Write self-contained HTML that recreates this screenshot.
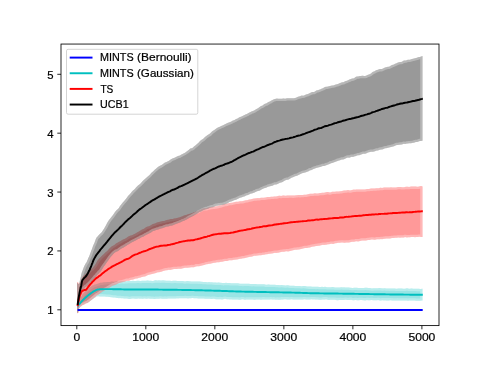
<!DOCTYPE html>
<html><head><meta charset="utf-8"><title>plot</title>
<style>html,body{margin:0;padding:0;background:#fff;overflow:hidden}body{width:488px;height:366px}</style>
</head><body>
<svg width="488" height="366" viewBox="0 0 488 366" style="display:block;will-change:transform;font-family:'Liberation Sans',sans-serif;font-size:10.78px">
<rect width="488" height="366" fill="#fff"/>
<clipPath id="c"><rect x="61.0" y="44.05" width="378.0" height="281.55"/></clipPath>
<g clip-path="url(#c)">
<defs><polygon id="p1" points="77.6,310.00 422.5,310.00 422.5,310.00 77.6,310.00"/><clipPath id="b1"><use href="#p1"/></clipPath></defs><use href="#p1" fill="#0000ff" fill-opacity="0.4"/><use href="#p1" clip-path="url(#b1)" fill="none" stroke="#fff" stroke-opacity="0.3" stroke-width="4.6" stroke-linejoin="round"/>
<defs><polygon id="p2" points="77.6,303.08 78.0,302.08 78.4,301.33 78.8,300.64 79.2,299.87 79.6,299.09 80.0,298.32 80.4,297.70 80.8,297.28 81.2,296.88 81.6,296.15 82.0,295.37 82.4,294.79 82.8,294.21 83.2,293.67 83.6,293.25 84.0,292.84 84.4,292.40 84.8,291.96 85.2,291.46 85.6,291.06 86.0,290.75 86.4,290.27 86.8,289.74 87.2,289.39 87.6,289.19 88.0,288.92 88.4,288.46 88.8,288.11 89.2,287.85 89.6,287.47 90.0,287.22 90.4,287.08 90.8,286.83 91.2,286.55 91.6,286.16 92.0,285.81 92.4,285.70 92.8,285.45 93.2,285.17 93.6,285.16 94.0,285.06 94.4,284.77 94.8,284.54 95.2,284.46 95.6,284.43 96.0,284.38 96.4,284.22 96.8,284.03 97.2,283.90 97.6,283.64 98.0,283.46 98.4,283.46 98.8,283.38 99.2,283.17 99.6,283.03 100.0,282.88 100.0,282.82 101.0,282.82 102.0,282.71 103.0,282.44 104.0,282.33 105.0,282.29 106.0,282.17 107.0,281.93 108.0,281.90 109.0,282.06 110.0,281.95 111.0,281.65 112.0,281.62 113.0,281.68 114.0,281.67 115.0,281.64 116.0,281.49 117.0,281.37 118.0,281.38 119.0,281.43 120.0,281.34 121.0,281.12 122.0,281.09 123.0,281.28 124.0,281.33 125.0,281.28 126.0,281.26 127.0,281.13 128.0,280.97 129.0,280.89 130.0,280.98 131.0,281.05 132.0,280.90 133.0,280.84 134.0,280.92 135.0,280.99 136.0,280.94 137.0,280.73 138.0,280.65 139.0,280.83 140.0,280.99 141.0,280.95 142.0,280.82 143.0,280.75 144.0,280.73 145.0,280.73 146.0,280.70 147.0,280.62 148.0,280.59 149.0,280.63 150.0,280.64 151.0,280.74 152.0,280.89 153.0,280.88 154.0,280.64 155.0,280.36 156.0,280.34 157.0,280.45 158.0,280.41 159.0,280.36 160.0,280.56 161.0,280.62 162.0,280.40 163.0,280.33 164.0,280.42 165.0,280.56 166.0,280.75 167.0,280.83 168.0,280.75 169.0,280.72 170.0,280.81 171.0,280.92 172.0,280.96 173.0,280.87 174.0,280.74 175.0,280.70 176.0,280.83 177.0,281.02 178.0,281.04 179.0,280.93 180.0,280.94 181.0,281.01 182.0,280.96 183.0,280.98 184.0,281.25 185.0,281.41 186.0,281.26 187.0,281.10 188.0,281.05 189.0,281.13 190.0,281.36 191.0,281.48 192.0,281.46 193.0,281.47 194.0,281.50 195.0,281.45 196.0,281.38 197.0,281.47 198.0,281.58 199.0,281.57 200.0,281.58 201.0,281.63 202.0,281.77 203.0,281.90 204.0,281.89 205.0,281.94 206.0,282.09 207.0,282.22 208.0,282.18 209.0,282.05 210.0,282.13 211.0,282.23 212.0,282.30 213.0,282.46 214.0,282.57 215.0,282.58 216.0,282.60 217.0,282.65 218.0,282.59 219.0,282.60 220.0,282.68 221.0,282.77 222.0,282.96 223.0,283.09 224.0,283.08 225.0,282.94 226.0,282.87 227.0,282.98 228.0,283.04 229.0,283.03 230.0,283.09 231.0,283.22 232.0,283.30 233.0,283.28 234.0,283.30 235.0,283.24 236.0,283.18 237.0,283.21 238.0,283.28 239.0,283.48 240.0,283.63 241.0,283.66 242.0,283.75 243.0,283.85 244.0,283.80 245.0,283.74 246.0,283.67 247.0,283.67 248.0,283.75 249.0,283.78 250.0,283.90 251.0,284.05 252.0,284.12 253.0,284.05 254.0,284.02 255.0,284.09 256.0,284.12 257.0,284.16 258.0,284.23 259.0,284.26 260.0,284.26 261.0,284.26 262.0,284.23 263.0,284.21 264.0,284.30 265.0,284.45 266.0,284.68 267.0,284.69 268.0,284.52 269.0,284.59 270.0,284.66 271.0,284.67 272.0,284.78 273.0,284.73 274.0,284.66 275.0,284.79 276.0,284.93 277.0,284.94 278.0,284.95 279.0,285.11 280.0,285.16 281.0,285.04 282.0,285.06 283.0,285.16 284.0,285.30 285.0,285.47 286.0,285.41 287.0,285.26 288.0,285.30 289.0,285.54 290.0,285.73 291.0,285.66 292.0,285.63 293.0,285.70 294.0,285.82 295.0,285.93 296.0,285.88 297.0,285.88 298.0,285.96 299.0,285.93 300.0,285.97 301.0,286.13 302.0,286.15 303.0,286.07 304.0,286.04 305.0,286.12 306.0,286.33 307.0,286.47 308.0,286.54 309.0,286.59 310.0,286.58 311.0,286.56 312.0,286.64 313.0,286.66 314.0,286.66 315.0,286.77 316.0,286.85 317.0,286.78 318.0,286.75 319.0,286.92 320.0,287.03 321.0,286.91 322.0,286.85 323.0,286.95 324.0,286.97 325.0,286.87 326.0,287.01 327.0,287.14 328.0,287.13 329.0,287.24 330.0,287.24 331.0,287.15 332.0,287.12 333.0,287.06 334.0,287.22 335.0,287.40 336.0,287.41 337.0,287.49 338.0,287.51 339.0,287.51 340.0,287.38 341.0,287.21 342.0,287.33 343.0,287.45 344.0,287.37 345.0,287.40 346.0,287.53 347.0,287.49 348.0,287.41 349.0,287.56 350.0,287.73 351.0,287.77 352.0,287.89 353.0,287.97 354.0,287.82 355.0,287.64 356.0,287.65 357.0,287.84 358.0,287.98 359.0,288.00 360.0,287.97 361.0,287.94 362.0,287.95 363.0,287.93 364.0,287.88 365.0,287.79 366.0,287.79 367.0,287.87 368.0,287.89 369.0,287.97 370.0,288.12 371.0,288.30 372.0,288.48 373.0,288.37 374.0,288.20 375.0,288.26 376.0,288.26 377.0,288.24 378.0,288.29 379.0,288.09 380.0,287.98 381.0,288.20 382.0,288.37 383.0,288.42 384.0,288.30 385.0,288.29 386.0,288.42 387.0,288.38 388.0,288.45 389.0,288.59 390.0,288.52 391.0,288.46 392.0,288.52 393.0,288.54 394.0,288.49 395.0,288.57 396.0,288.74 397.0,288.79 398.0,288.60 399.0,288.50 400.0,288.59 401.0,288.61 402.0,288.62 403.0,288.71 404.0,288.72 405.0,288.63 406.0,288.49 407.0,288.36 408.0,288.54 409.0,288.76 410.0,288.67 411.0,288.54 412.0,288.59 413.0,288.73 414.0,288.72 415.0,288.67 416.0,288.77 417.0,288.86 418.0,288.83 419.0,288.84 420.0,288.95 421.0,288.91 422.0,288.78 422.5,288.74 422.5,300.48 422.0,300.51 421.0,300.62 420.0,300.70 419.0,300.76 418.0,300.81 417.0,300.85 416.0,300.73 415.0,300.59 414.0,300.51 413.0,300.45 412.0,300.43 411.0,300.44 410.0,300.48 409.0,300.58 408.0,300.70 407.0,300.62 406.0,300.53 405.0,300.58 404.0,300.53 403.0,300.54 402.0,300.59 401.0,300.59 400.0,300.60 399.0,300.51 398.0,300.43 397.0,300.42 396.0,300.50 395.0,300.60 394.0,300.57 393.0,300.47 392.0,300.42 391.0,300.33 390.0,300.33 389.0,300.41 388.0,300.39 387.0,300.40 386.0,300.39 385.0,300.36 384.0,300.41 383.0,300.35 382.0,300.34 381.0,300.47 380.0,300.55 379.0,300.28 378.0,300.12 377.0,300.28 376.0,300.24 375.0,300.24 374.0,300.37 373.0,300.28 372.0,300.08 371.0,300.07 370.0,300.22 369.0,300.26 368.0,300.13 367.0,300.06 366.0,300.24 365.0,300.39 364.0,300.30 363.0,300.19 362.0,300.06 361.0,299.98 360.0,300.11 359.0,300.16 358.0,300.20 357.0,300.22 356.0,300.07 355.0,300.08 354.0,300.18 353.0,300.18 352.0,300.04 351.0,299.87 350.0,299.88 349.0,300.00 348.0,300.05 347.0,299.91 346.0,299.79 345.0,299.83 344.0,299.94 343.0,300.10 342.0,300.08 341.0,299.90 340.0,299.96 339.0,300.11 338.0,300.14 337.0,300.14 336.0,299.98 335.0,299.83 334.0,299.78 333.0,299.71 332.0,299.68 331.0,299.68 330.0,299.81 329.0,299.91 328.0,299.78 327.0,299.51 326.0,299.37 325.0,299.40 324.0,299.41 323.0,299.46 322.0,299.61 321.0,299.73 320.0,299.80 319.0,299.75 318.0,299.59 317.0,299.49 316.0,299.47 315.0,299.39 314.0,299.37 313.0,299.38 312.0,299.30 311.0,299.31 310.0,299.43 309.0,299.45 308.0,299.45 307.0,299.53 306.0,299.52 305.0,299.35 304.0,299.29 303.0,299.39 302.0,299.45 301.0,299.46 300.0,299.46 299.0,299.50 298.0,299.45 297.0,299.48 296.0,299.54 295.0,299.51 294.0,299.55 293.0,299.48 292.0,299.33 291.0,299.37 290.0,299.47 289.0,299.44 288.0,299.38 287.0,299.39 286.0,299.34 285.0,299.21 284.0,299.28 283.0,299.41 282.0,299.38 281.0,299.41 280.0,299.65 279.0,299.78 278.0,299.65 277.0,299.61 276.0,299.71 275.0,299.59 274.0,299.40 273.0,299.48 272.0,299.48 271.0,299.36 270.0,299.42 269.0,299.57 268.0,299.59 267.0,299.51 266.0,299.52 265.0,299.47 264.0,299.38 263.0,299.38 262.0,299.50 261.0,299.63 260.0,299.59 259.0,299.53 258.0,299.48 257.0,299.46 256.0,299.57 255.0,299.65 254.0,299.65 253.0,299.60 252.0,299.57 251.0,299.54 250.0,299.51 249.0,299.53 248.0,299.44 247.0,299.44 246.0,299.62 245.0,299.68 244.0,299.57 243.0,299.37 242.0,299.22 241.0,299.44 240.0,299.78 239.0,299.73 238.0,299.53 237.0,299.48 236.0,299.45 235.0,299.49 234.0,299.55 233.0,299.54 232.0,299.43 231.0,299.35 230.0,299.38 229.0,299.34 228.0,299.34 227.0,299.35 226.0,299.08 225.0,298.78 224.0,298.92 223.0,299.31 222.0,299.43 221.0,299.22 220.0,299.13 219.0,299.21 218.0,299.21 217.0,299.22 216.0,299.15 215.0,298.92 214.0,298.86 213.0,298.87 212.0,298.88 211.0,298.93 210.0,298.86 209.0,298.76 208.0,298.80 207.0,298.81 206.0,298.75 205.0,298.67 204.0,298.53 203.0,298.53 202.0,298.55 201.0,298.46 200.0,298.46 199.0,298.55 198.0,298.44 197.0,298.21 196.0,298.20 195.0,298.24 194.0,298.19 193.0,298.11 192.0,298.11 191.0,298.21 190.0,298.26 189.0,298.33 188.0,298.41 187.0,298.31 186.0,298.16 185.0,298.16 184.0,298.27 183.0,298.34 182.0,298.29 181.0,298.19 180.0,298.22 179.0,298.36 178.0,298.39 177.0,298.37 176.0,298.47 175.0,298.62 174.0,298.57 173.0,298.48 172.0,298.47 171.0,298.47 170.0,298.50 169.0,298.51 168.0,298.61 167.0,298.72 166.0,298.69 165.0,298.63 164.0,298.68 163.0,298.75 162.0,298.72 161.0,298.62 160.0,298.56 159.0,298.69 158.0,298.85 157.0,298.84 156.0,298.84 155.0,298.91 154.0,298.93 153.0,298.84 152.0,298.77 151.0,298.70 150.0,298.65 149.0,298.60 148.0,298.56 147.0,298.66 146.0,298.69 145.0,298.52 144.0,298.54 143.0,298.78 142.0,298.78 141.0,298.62 140.0,298.64 139.0,298.61 138.0,298.57 137.0,298.65 136.0,298.63 135.0,298.66 134.0,298.61 133.0,298.48 132.0,298.58 131.0,298.82 130.0,299.04 129.0,298.99 128.0,298.73 127.0,298.57 126.0,298.52 125.0,298.56 124.0,298.51 123.0,298.37 122.0,298.29 121.0,298.17 120.0,298.12 119.0,298.16 118.0,298.12 117.0,297.94 116.0,297.68 115.0,297.48 114.0,297.43 113.0,297.43 112.0,297.30 111.0,297.16 110.0,297.06 109.0,296.89 108.0,296.75 107.0,296.76 106.0,296.73 105.0,296.52 104.0,296.44 103.0,296.47 102.0,296.42 101.0,296.43 100.0,296.41 100.0,296.45 99.6,296.44 99.2,296.32 98.8,296.29 98.4,296.30 98.0,296.23 97.6,296.28 97.2,296.46 96.8,296.49 96.4,296.56 96.0,296.82 95.6,297.19 95.2,297.45 94.8,297.58 94.4,297.79 94.0,298.14 93.6,298.47 93.2,298.68 92.8,298.94 92.4,299.31 92.0,299.51 91.6,299.72 91.2,300.20 90.8,300.59 90.4,300.80 90.0,301.00 89.6,301.31 89.2,301.66 88.8,301.94 88.4,302.19 88.0,302.43 87.6,302.69 87.2,302.80 86.8,302.83 86.4,303.07 86.0,303.32 85.6,303.32 85.2,303.34 84.8,303.57 84.4,303.92 84.0,304.14 83.6,304.20 83.2,304.35 82.8,304.65 82.4,304.97 82.0,305.29 81.6,305.60 81.2,305.79 80.8,305.98 80.4,306.46 80.0,307.05 79.6,307.51 79.2,307.90 78.8,308.27 78.4,308.66 78.0,309.10 77.6,309.52"/><clipPath id="b2"><use href="#p2"/></clipPath></defs><use href="#p2" fill="#00bfbf" fill-opacity="0.4"/><use href="#p2" clip-path="url(#b2)" fill="none" stroke="#fff" stroke-opacity="0.3" stroke-width="4.6" stroke-linejoin="round"/>
<defs><polygon id="p3" points="77.0,282.11 77.4,282.27 77.8,282.28 78.2,282.43 78.6,283.43 79.0,283.95 79.4,283.36 79.8,282.75 80.2,282.07 80.6,281.31 81.0,280.34 81.4,278.99 81.8,277.74 82.2,276.98 82.6,276.47 83.0,276.02 83.4,275.85 83.8,275.70 84.2,275.43 84.6,275.06 85.0,274.55 85.4,274.28 85.8,274.30 86.2,273.93 86.6,273.29 87.0,272.91 87.4,272.59 87.8,272.19 88.2,271.72 88.6,271.28 89.0,270.97 89.4,270.67 89.8,270.22 90.2,269.60 90.6,269.17 91.0,269.00 91.4,268.82 91.8,268.67 92.2,268.42 92.6,267.92 93.0,267.38 93.4,266.97 93.8,266.50 94.2,265.89 94.6,265.41 95.0,264.88 95.4,264.29 95.8,263.68 96.2,262.98 96.6,262.32 97.0,261.59 97.4,260.87 97.8,260.34 98.2,259.84 98.6,259.25 99.0,258.66 99.4,258.18 99.8,257.92 100.0,257.80 101.0,256.63 102.0,255.66 103.0,254.81 104.0,253.96 105.0,252.87 106.0,251.89 107.0,251.19 108.0,250.20 109.0,249.05 110.0,248.02 111.0,247.09 112.0,246.29 113.0,245.65 114.0,245.18 115.0,244.47 116.0,243.56 117.0,242.93 118.0,242.41 119.0,241.84 120.0,241.38 121.0,240.84 122.0,240.14 123.0,239.58 124.0,239.17 125.0,238.77 126.0,238.18 127.0,237.47 128.0,236.82 129.0,236.23 130.0,235.75 131.0,235.42 132.0,235.13 133.0,234.63 134.0,234.16 135.0,233.83 136.0,233.29 137.0,232.56 138.0,231.98 139.0,231.51 140.0,230.87 141.0,230.18 142.0,229.60 143.0,229.13 144.0,228.71 145.0,228.07 146.0,227.24 147.0,226.66 148.0,226.47 149.0,226.19 150.0,225.70 151.0,225.17 152.0,224.53 153.0,224.03 154.0,223.78 155.0,223.47 156.0,223.01 157.0,222.54 158.0,222.24 159.0,222.04 160.0,221.82 161.0,221.48 162.0,221.15 163.0,221.04 164.0,220.97 165.0,220.67 166.0,220.26 167.0,219.96 168.0,219.87 169.0,219.75 170.0,219.31 171.0,219.07 172.0,219.10 173.0,218.94 174.0,218.62 175.0,218.40 176.0,218.22 177.0,217.93 178.0,217.67 179.0,217.46 180.0,217.19 181.0,216.82 182.0,216.42 183.0,216.07 184.0,215.60 185.0,215.23 186.0,215.05 187.0,214.74 188.0,214.37 189.0,214.07 190.0,213.85 191.0,213.39 192.0,212.88 193.0,212.66 194.0,212.35 195.0,211.88 196.0,211.64 197.0,211.45 198.0,210.95 199.0,210.35 200.0,209.92 201.0,209.53 202.0,208.91 203.0,208.42 204.0,208.31 205.0,208.32 206.0,208.31 207.0,207.99 208.0,207.54 209.0,207.35 210.0,207.28 211.0,207.05 212.0,206.85 213.0,206.76 214.0,206.63 215.0,206.45 216.0,206.33 217.0,206.29 218.0,205.98 219.0,205.62 220.0,205.54 221.0,205.31 222.0,204.92 223.0,204.55 224.0,204.29 225.0,204.09 226.0,203.87 227.0,203.70 228.0,203.40 229.0,203.02 230.0,202.89 231.0,202.87 232.0,202.69 233.0,202.40 234.0,202.19 235.0,202.00 236.0,201.73 237.0,201.68 238.0,201.75 239.0,201.57 240.0,201.30 241.0,201.19 242.0,201.24 243.0,201.12 244.0,200.75 245.0,200.42 246.0,200.25 247.0,200.21 248.0,199.93 249.0,199.56 250.0,199.44 251.0,199.26 252.0,199.02 253.0,198.77 254.0,198.49 255.0,198.38 256.0,198.37 257.0,198.19 258.0,198.11 259.0,198.19 260.0,197.98 261.0,197.69 262.0,197.65 263.0,197.74 264.0,197.73 265.0,197.60 266.0,197.40 267.0,197.11 268.0,196.99 269.0,196.97 270.0,196.95 271.0,196.76 272.0,196.69 273.0,196.81 274.0,196.60 275.0,196.43 276.0,196.47 277.0,196.37 278.0,196.02 279.0,195.63 280.0,195.72 281.0,195.90 282.0,195.76 283.0,195.51 284.0,195.53 285.0,195.81 286.0,195.82 287.0,195.62 288.0,195.59 289.0,195.54 290.0,195.43 291.0,195.47 292.0,195.56 293.0,195.62 294.0,195.61 295.0,195.41 296.0,195.28 297.0,195.24 298.0,195.07 299.0,195.02 300.0,195.12 301.0,195.05 302.0,194.98 303.0,194.89 304.0,194.74 305.0,194.75 306.0,194.69 307.0,194.52 308.0,194.33 309.0,193.98 310.0,193.70 311.0,193.66 312.0,193.67 313.0,193.68 314.0,193.56 315.0,193.36 316.0,193.38 317.0,193.48 318.0,193.40 319.0,193.22 320.0,193.06 321.0,192.92 322.0,192.86 323.0,192.84 324.0,192.75 325.0,192.59 326.0,192.32 327.0,192.07 328.0,192.02 329.0,192.19 330.0,192.39 331.0,192.24 332.0,191.83 333.0,191.66 334.0,191.80 335.0,191.69 336.0,191.48 337.0,191.51 338.0,191.53 339.0,191.45 340.0,191.33 341.0,191.20 342.0,190.98 343.0,190.72 344.0,190.59 345.0,190.57 346.0,190.51 347.0,190.24 348.0,190.10 349.0,190.27 350.0,190.40 351.0,190.36 352.0,190.10 353.0,189.73 354.0,189.62 355.0,189.66 356.0,189.54 357.0,189.39 358.0,189.49 359.0,189.52 360.0,189.40 361.0,189.47 362.0,189.54 363.0,189.47 364.0,189.45 365.0,189.40 366.0,189.24 367.0,189.08 368.0,189.00 369.0,188.96 370.0,188.75 371.0,188.62 372.0,188.60 373.0,188.50 374.0,188.51 375.0,188.53 376.0,188.37 377.0,188.29 378.0,188.32 379.0,188.14 380.0,187.79 381.0,187.78 382.0,188.00 383.0,187.83 384.0,187.45 385.0,187.42 386.0,187.52 387.0,187.51 388.0,187.56 389.0,187.57 390.0,187.45 391.0,187.33 392.0,187.49 393.0,187.55 394.0,187.38 395.0,187.41 396.0,187.44 397.0,187.29 398.0,187.07 399.0,186.88 400.0,186.91 401.0,187.12 402.0,187.24 403.0,187.24 404.0,187.20 405.0,187.08 406.0,186.84 407.0,186.73 408.0,186.86 409.0,186.95 410.0,186.80 411.0,186.61 412.0,186.56 413.0,186.58 414.0,186.62 415.0,186.59 416.0,186.61 417.0,186.66 418.0,186.69 419.0,186.62 420.0,186.25 421.0,186.08 422.0,186.36 422.5,186.49 422.5,236.89 422.0,236.95 421.0,237.00 420.0,236.86 419.0,236.84 418.0,237.01 417.0,237.05 416.0,237.11 415.0,237.14 414.0,237.06 413.0,237.04 412.0,237.00 411.0,237.09 410.0,237.26 409.0,237.27 408.0,237.34 407.0,237.39 406.0,237.14 405.0,237.04 404.0,237.39 403.0,237.58 402.0,237.45 401.0,237.52 400.0,237.64 399.0,237.56 398.0,237.62 397.0,237.82 396.0,237.87 395.0,237.87 394.0,237.89 393.0,237.93 392.0,238.05 391.0,238.24 390.0,238.41 389.0,238.43 388.0,238.45 387.0,238.52 386.0,238.56 385.0,238.63 384.0,238.85 383.0,239.07 382.0,239.13 381.0,239.11 380.0,239.18 379.0,239.37 378.0,239.33 377.0,239.30 376.0,239.59 375.0,239.78 374.0,239.68 373.0,239.58 372.0,239.50 371.0,239.57 370.0,239.89 369.0,240.05 368.0,240.05 367.0,240.19 366.0,240.45 365.0,240.59 364.0,240.52 363.0,240.43 362.0,240.50 361.0,240.72 360.0,241.01 359.0,241.26 358.0,241.40 357.0,241.37 356.0,241.36 355.0,241.58 354.0,241.71 353.0,241.74 352.0,241.82 351.0,241.94 350.0,242.20 349.0,242.44 348.0,242.49 347.0,242.44 346.0,242.50 345.0,242.66 344.0,242.72 343.0,242.57 342.0,242.42 341.0,242.50 340.0,242.66 339.0,242.72 338.0,242.87 337.0,243.10 336.0,243.13 335.0,243.30 334.0,243.71 333.0,243.88 332.0,243.82 331.0,243.81 330.0,244.06 329.0,244.23 328.0,244.23 327.0,244.44 326.0,244.73 325.0,244.87 324.0,244.88 323.0,244.85 322.0,244.96 321.0,245.19 320.0,245.42 319.0,245.63 318.0,245.77 317.0,245.90 316.0,246.08 315.0,246.34 314.0,246.59 313.0,246.61 312.0,246.70 311.0,247.04 310.0,247.39 309.0,247.60 308.0,247.80 307.0,247.98 306.0,248.02 305.0,248.12 304.0,248.34 303.0,248.60 302.0,248.82 301.0,248.97 300.0,249.24 299.0,249.44 298.0,249.43 297.0,249.63 296.0,249.86 295.0,249.86 294.0,250.09 293.0,250.35 292.0,250.53 291.0,250.75 290.0,250.88 289.0,251.13 288.0,251.38 287.0,251.32 286.0,251.36 285.0,251.61 284.0,251.66 283.0,251.69 282.0,251.83 281.0,251.93 280.0,252.19 279.0,252.49 278.0,252.64 277.0,252.82 276.0,252.89 275.0,252.86 274.0,252.96 273.0,253.21 272.0,253.46 271.0,253.60 270.0,253.69 269.0,253.84 268.0,254.07 267.0,254.24 266.0,254.32 265.0,254.52 264.0,254.68 263.0,254.75 262.0,255.00 261.0,255.18 260.0,255.15 259.0,255.21 258.0,255.40 257.0,255.61 256.0,255.70 255.0,255.68 254.0,255.85 253.0,256.13 252.0,256.45 251.0,256.71 250.0,256.81 249.0,256.98 248.0,257.25 247.0,257.48 246.0,257.76 245.0,258.08 244.0,258.27 243.0,258.29 242.0,258.39 241.0,258.65 240.0,258.84 239.0,259.00 238.0,259.27 237.0,259.48 236.0,259.56 235.0,259.68 234.0,259.84 233.0,259.98 232.0,260.18 231.0,260.27 230.0,260.24 229.0,260.37 228.0,260.73 227.0,261.00 226.0,260.95 225.0,260.96 224.0,261.18 223.0,261.54 222.0,261.87 221.0,261.87 220.0,261.90 219.0,262.13 218.0,262.17 217.0,262.22 216.0,262.57 215.0,262.85 214.0,262.85 213.0,262.97 212.0,263.32 211.0,263.61 210.0,263.69 209.0,263.77 208.0,264.04 207.0,264.22 206.0,264.36 205.0,264.69 204.0,264.93 203.0,265.14 202.0,265.47 201.0,265.74 200.0,266.01 199.0,266.23 198.0,266.22 197.0,266.19 196.0,266.38 195.0,266.82 194.0,267.16 193.0,267.18 192.0,267.13 191.0,267.32 190.0,267.58 189.0,267.60 188.0,267.65 187.0,267.77 186.0,267.70 185.0,267.83 184.0,268.04 183.0,268.14 182.0,268.51 181.0,268.79 180.0,268.78 179.0,268.79 178.0,268.82 177.0,268.92 176.0,268.99 175.0,269.00 174.0,269.10 173.0,269.23 172.0,269.44 171.0,269.80 170.0,269.96 169.0,269.86 168.0,270.02 167.0,270.28 166.0,270.26 165.0,270.41 164.0,270.79 163.0,271.11 162.0,271.42 161.0,271.67 160.0,271.93 159.0,272.16 158.0,272.18 157.0,272.39 156.0,272.88 155.0,273.19 154.0,273.50 153.0,273.86 152.0,274.04 151.0,274.29 150.0,274.52 149.0,274.74 148.0,275.03 147.0,275.43 146.0,275.98 145.0,276.38 144.0,276.51 143.0,276.67 142.0,276.90 141.0,277.33 140.0,277.72 139.0,277.84 138.0,278.15 137.0,278.47 136.0,278.61 135.0,278.82 134.0,279.14 133.0,279.58 132.0,279.81 131.0,279.87 130.0,280.25 129.0,280.72 128.0,280.86 127.0,280.86 126.0,281.09 125.0,281.47 124.0,281.75 123.0,282.03 122.0,282.26 121.0,282.41 120.0,282.63 119.0,283.01 118.0,283.51 117.0,283.95 116.0,284.44 115.0,284.93 114.0,285.17 113.0,285.46 112.0,286.04 111.0,286.62 110.0,287.14 109.0,287.71 108.0,288.34 107.0,288.97 106.0,289.55 105.0,290.11 104.0,290.71 103.0,291.21 102.0,291.79 101.0,292.63 100.0,293.37 99.8,293.40 99.4,293.79 99.0,294.17 98.6,294.38 98.2,294.60 97.8,294.80 97.4,294.98 97.0,295.20 96.6,295.43 96.2,295.74 95.8,296.21 95.4,296.64 95.0,296.94 94.6,297.31 94.2,297.68 93.8,297.94 93.4,298.21 93.0,298.44 92.6,298.79 92.2,299.28 91.8,299.65 91.4,299.96 91.0,300.27 90.6,300.60 90.2,300.94 89.8,301.32 89.4,301.59 89.0,301.66 88.6,302.02 88.2,302.57 87.8,302.77 87.4,302.91 87.0,303.18 86.6,303.30 86.2,303.33 85.8,303.50 85.4,303.84 85.0,304.11 84.6,304.25 84.2,304.49 83.8,304.83 83.4,305.05 83.0,305.05 82.6,305.11 82.2,305.41 81.8,305.85 81.4,306.21 81.0,306.27 80.6,306.50 80.2,307.02 79.8,307.40 79.4,307.86 79.0,308.46 78.6,310.93 78.2,312.98 77.8,313.10 77.4,313.17 77.0,313.20"/><clipPath id="b3"><use href="#p3"/></clipPath></defs><use href="#p3" fill="#ff0000" fill-opacity="0.4"/><use href="#p3" clip-path="url(#b3)" fill="none" stroke="#fff" stroke-opacity="0.3" stroke-width="4.6" stroke-linejoin="round"/>
<defs><polygon id="p4" points="77.0,282.93 77.4,283.11 77.8,283.45 78.2,283.81 78.6,284.27 79.0,284.31 79.4,283.01 79.8,281.09 80.2,279.37 80.6,277.74 81.0,275.99 81.4,274.04 81.8,272.51 82.2,271.52 82.6,270.47 83.0,269.29 83.4,268.23 83.8,267.13 84.2,266.23 84.6,265.48 85.0,264.72 85.4,264.03 85.8,263.27 86.2,262.64 86.6,262.16 87.0,261.34 87.4,260.32 87.8,259.38 88.2,258.35 88.6,257.42 89.0,256.70 89.4,255.78 89.8,254.64 90.2,253.57 90.6,252.42 91.0,251.20 91.4,250.28 91.8,249.38 92.2,248.23 92.6,247.14 93.0,246.06 93.4,244.96 93.8,244.14 94.2,243.35 94.6,242.43 95.0,241.34 95.4,240.13 95.8,239.07 96.2,238.17 96.6,237.39 97.0,236.90 97.4,236.69 97.8,236.29 98.2,235.74 98.6,235.30 99.0,234.85 99.4,234.46 99.8,234.04 100.0,233.84 101.0,232.95 102.0,231.75 103.0,230.26 104.0,228.65 105.0,227.01 106.0,225.33 107.0,223.34 108.0,221.60 109.0,220.02 110.0,218.67 111.0,217.48 112.0,216.26 113.0,214.94 114.0,213.51 115.0,212.04 116.0,210.76 117.0,209.85 118.0,209.00 119.0,207.64 120.0,205.96 121.0,204.70 122.0,203.58 123.0,202.35 124.0,201.22 125.0,200.02 126.0,198.74 127.0,197.45 128.0,196.11 129.0,194.91 130.0,193.93 131.0,192.87 132.0,191.62 133.0,190.62 134.0,189.73 135.0,188.69 136.0,187.61 137.0,186.53 138.0,185.60 139.0,184.84 140.0,183.97 141.0,182.93 142.0,181.86 143.0,180.76 144.0,179.83 145.0,179.02 146.0,178.09 147.0,177.13 148.0,176.22 149.0,175.42 150.0,174.38 151.0,173.19 152.0,172.31 153.0,171.40 154.0,170.38 155.0,169.52 156.0,168.65 157.0,167.72 158.0,166.92 159.0,166.32 160.0,165.84 161.0,165.35 162.0,164.72 163.0,163.99 164.0,163.16 165.0,162.51 166.0,162.15 167.0,161.72 168.0,161.26 169.0,160.77 170.0,160.07 171.0,159.27 172.0,158.66 173.0,158.37 174.0,157.95 175.0,157.41 176.0,156.94 177.0,156.38 178.0,156.04 179.0,155.86 180.0,155.38 181.0,154.79 182.0,154.24 183.0,153.64 184.0,153.16 185.0,152.69 186.0,151.99 187.0,151.29 188.0,150.60 189.0,149.75 190.0,148.85 191.0,148.36 192.0,148.19 193.0,147.57 194.0,146.56 195.0,145.72 196.0,144.89 197.0,144.04 198.0,143.24 199.0,142.17 200.0,140.99 201.0,140.14 202.0,139.62 203.0,138.97 204.0,138.07 205.0,137.10 206.0,136.27 207.0,135.51 208.0,134.81 209.0,134.27 210.0,133.54 211.0,132.50 212.0,131.50 213.0,130.83 214.0,130.20 215.0,129.44 216.0,128.74 217.0,128.05 218.0,127.39 219.0,127.05 220.0,126.67 221.0,126.03 222.0,125.63 223.0,125.24 224.0,124.67 225.0,124.18 226.0,123.72 227.0,123.30 228.0,122.87 229.0,122.47 230.0,122.12 231.0,121.70 232.0,121.09 233.0,120.57 234.0,120.34 235.0,119.80 236.0,119.08 237.0,118.65 238.0,118.21 239.0,117.62 240.0,117.10 241.0,116.70 242.0,116.24 243.0,115.72 244.0,115.29 245.0,114.84 246.0,114.37 247.0,113.95 248.0,113.30 249.0,112.66 250.0,112.27 251.0,111.84 252.0,111.31 253.0,110.98 254.0,110.62 255.0,109.96 256.0,109.25 257.0,108.71 258.0,108.20 259.0,107.48 260.0,106.67 261.0,106.09 262.0,105.74 263.0,105.15 264.0,104.34 265.0,103.85 266.0,103.61 267.0,103.10 268.0,102.36 269.0,101.87 270.0,101.47 271.0,100.83 272.0,100.22 273.0,99.68 274.0,99.24 275.0,99.06 276.0,98.83 277.0,98.58 278.0,98.68 279.0,98.82 280.0,98.77 281.0,98.68 282.0,98.63 283.0,98.62 284.0,98.62 285.0,98.66 286.0,98.48 287.0,98.25 288.0,98.21 289.0,98.23 290.0,98.20 291.0,98.15 292.0,98.20 293.0,98.29 294.0,98.17 295.0,97.94 296.0,97.69 297.0,97.23 298.0,96.78 299.0,96.58 300.0,96.34 301.0,95.84 302.0,95.57 303.0,95.67 304.0,95.57 305.0,95.05 306.0,94.42 307.0,94.17 308.0,94.00 309.0,93.49 310.0,92.94 311.0,92.55 312.0,92.12 313.0,91.97 314.0,92.01 315.0,91.52 316.0,90.74 317.0,90.33 318.0,90.13 319.0,89.80 320.0,89.41 321.0,88.95 322.0,88.57 323.0,88.18 324.0,87.60 325.0,87.08 326.0,86.81 327.0,86.64 328.0,86.45 329.0,86.22 330.0,85.99 331.0,85.70 332.0,85.44 333.0,85.44 334.0,85.31 335.0,84.85 336.0,84.51 337.0,84.33 338.0,83.99 339.0,83.56 340.0,83.11 341.0,82.65 342.0,82.34 343.0,82.25 344.0,81.94 345.0,81.37 346.0,81.00 347.0,80.70 348.0,80.23 349.0,79.78 350.0,79.32 351.0,78.88 352.0,78.62 353.0,78.42 354.0,78.14 355.0,77.52 356.0,76.79 357.0,76.47 358.0,76.45 359.0,76.35 360.0,76.12 361.0,75.89 362.0,75.76 363.0,75.84 364.0,75.90 365.0,75.92 366.0,75.76 367.0,75.21 368.0,74.80 369.0,74.48 370.0,74.04 371.0,73.40 372.0,72.48 373.0,71.81 374.0,71.39 375.0,70.89 376.0,70.34 377.0,70.01 378.0,69.75 379.0,69.30 380.0,69.06 381.0,69.11 382.0,68.95 383.0,68.45 384.0,67.88 385.0,67.48 386.0,67.17 387.0,66.89 388.0,66.78 389.0,66.66 390.0,66.20 391.0,65.60 392.0,65.09 393.0,64.78 394.0,64.42 395.0,63.86 396.0,63.40 397.0,62.91 398.0,62.40 399.0,62.14 400.0,62.01 401.0,61.90 402.0,61.65 403.0,61.04 404.0,60.62 405.0,60.61 406.0,60.43 407.0,59.96 408.0,59.68 409.0,59.77 410.0,59.65 411.0,59.28 412.0,58.98 413.0,58.76 414.0,58.46 415.0,58.17 416.0,58.01 417.0,57.79 418.0,57.36 419.0,57.06 420.0,56.91 421.0,56.56 422.0,56.14 422.5,55.95 422.5,140.69 422.0,140.71 421.0,140.99 420.0,141.10 419.0,141.31 418.0,141.72 417.0,142.01 416.0,141.98 415.0,142.15 414.0,142.63 413.0,142.86 412.0,142.98 411.0,143.15 410.0,143.27 409.0,143.30 408.0,143.39 407.0,143.61 406.0,143.84 405.0,143.93 404.0,143.85 403.0,144.06 402.0,144.43 401.0,144.58 400.0,144.64 399.0,144.80 398.0,144.96 397.0,145.03 396.0,145.29 395.0,145.81 394.0,146.31 393.0,146.56 392.0,146.71 391.0,146.98 390.0,147.21 389.0,147.46 388.0,147.85 387.0,148.10 386.0,148.20 385.0,148.37 384.0,148.71 383.0,149.13 382.0,149.40 381.0,149.45 380.0,149.68 379.0,150.10 378.0,150.42 377.0,150.60 376.0,150.78 375.0,151.14 374.0,151.50 373.0,151.76 372.0,151.85 371.0,151.87 370.0,152.04 369.0,152.29 368.0,152.60 367.0,152.97 366.0,153.43 365.0,153.85 364.0,153.76 363.0,153.84 362.0,154.30 361.0,154.56 360.0,154.89 359.0,155.20 358.0,155.33 357.0,155.62 356.0,156.02 355.0,156.28 354.0,156.61 353.0,156.88 352.0,156.77 351.0,156.90 350.0,157.44 349.0,157.64 348.0,157.55 347.0,157.72 346.0,158.22 345.0,158.73 344.0,159.23 343.0,159.56 342.0,159.56 341.0,159.77 340.0,160.20 339.0,160.46 338.0,160.71 337.0,161.14 336.0,161.58 335.0,161.95 334.0,162.35 333.0,162.80 332.0,163.05 331.0,163.19 330.0,163.66 329.0,164.26 328.0,164.61 327.0,164.89 326.0,165.24 325.0,165.63 324.0,165.92 323.0,166.06 322.0,166.32 321.0,166.64 320.0,166.94 319.0,167.30 318.0,167.59 317.0,167.85 316.0,168.12 315.0,168.40 314.0,168.71 313.0,169.19 312.0,169.84 311.0,170.16 310.0,170.37 309.0,170.90 308.0,171.48 307.0,171.87 306.0,172.14 305.0,172.41 304.0,172.65 303.0,172.94 302.0,173.34 301.0,173.76 300.0,174.19 299.0,174.73 298.0,175.27 297.0,175.67 296.0,175.96 295.0,176.30 294.0,176.82 293.0,177.33 292.0,177.61 291.0,178.04 290.0,178.81 289.0,179.37 288.0,179.68 287.0,179.85 286.0,180.00 285.0,180.44 284.0,181.01 283.0,181.72 282.0,182.31 281.0,182.54 280.0,182.85 279.0,183.29 278.0,183.74 277.0,184.28 276.0,184.53 275.0,184.52 274.0,184.83 273.0,185.44 272.0,185.80 271.0,185.93 270.0,186.13 269.0,186.42 268.0,186.77 267.0,187.23 266.0,187.74 265.0,188.05 264.0,188.35 263.0,188.81 262.0,189.22 261.0,189.83 260.0,190.46 259.0,190.68 258.0,190.92 257.0,191.26 256.0,191.66 255.0,192.19 254.0,192.68 253.0,193.12 252.0,193.39 251.0,193.58 250.0,194.04 249.0,194.60 248.0,194.90 247.0,195.13 246.0,195.59 245.0,196.13 244.0,196.46 243.0,196.70 242.0,197.22 241.0,197.57 240.0,197.76 239.0,198.26 238.0,198.79 237.0,199.32 236.0,199.77 235.0,200.07 234.0,200.33 233.0,200.64 232.0,201.14 231.0,201.49 230.0,201.80 229.0,202.34 228.0,202.94 227.0,203.42 226.0,203.77 225.0,204.13 224.0,204.47 223.0,204.73 222.0,204.91 221.0,205.04 220.0,205.17 219.0,205.29 218.0,205.46 217.0,205.70 216.0,205.79 215.0,206.14 214.0,206.80 213.0,207.14 212.0,207.34 211.0,207.57 210.0,207.80 209.0,208.16 208.0,208.63 207.0,208.97 206.0,209.14 205.0,209.48 204.0,209.88 203.0,210.32 202.0,210.91 201.0,211.40 200.0,211.85 199.0,212.36 198.0,213.03 197.0,213.77 196.0,214.25 195.0,214.84 194.0,215.49 193.0,215.91 192.0,216.49 191.0,217.10 190.0,217.50 189.0,218.04 188.0,218.80 187.0,219.36 186.0,219.83 185.0,220.36 184.0,220.77 183.0,221.10 182.0,221.47 181.0,221.95 180.0,222.44 179.0,222.85 178.0,223.24 177.0,223.60 176.0,223.96 175.0,224.29 174.0,224.66 173.0,225.21 172.0,225.58 171.0,225.65 170.0,225.81 169.0,226.17 168.0,226.41 167.0,226.53 166.0,226.81 165.0,227.18 164.0,227.53 163.0,227.91 162.0,228.22 161.0,228.42 160.0,228.74 159.0,229.13 158.0,229.42 157.0,229.77 156.0,230.12 155.0,230.46 154.0,230.78 153.0,231.05 152.0,231.63 151.0,232.39 150.0,232.93 149.0,233.44 148.0,234.01 147.0,234.56 146.0,235.04 145.0,235.57 144.0,236.25 143.0,236.76 142.0,237.08 141.0,237.50 140.0,238.17 139.0,238.76 138.0,239.12 137.0,239.72 136.0,240.31 135.0,240.72 134.0,241.21 133.0,241.75 132.0,242.30 131.0,242.82 130.0,243.53 129.0,244.22 128.0,244.61 127.0,245.20 126.0,245.90 125.0,246.55 124.0,247.22 123.0,247.65 122.0,248.15 121.0,248.83 120.0,249.54 119.0,250.31 118.0,251.03 117.0,251.49 116.0,251.78 115.0,252.40 114.0,253.31 113.0,254.26 112.0,255.38 111.0,256.57 110.0,257.74 109.0,259.23 108.0,260.78 107.0,262.05 106.0,263.58 105.0,265.03 104.0,266.20 103.0,267.76 102.0,269.38 101.0,271.02 100.0,272.44 99.8,272.22 99.4,272.49 99.0,273.25 98.6,273.74 98.2,273.94 97.8,274.26 97.4,274.73 97.0,275.32 96.6,275.84 96.2,276.20 95.8,276.53 95.4,277.00 95.0,277.66 94.6,278.15 94.2,278.56 93.8,279.16 93.4,279.68 93.0,280.00 92.6,280.34 92.2,280.86 91.8,281.47 91.4,281.92 91.0,282.24 90.6,282.60 90.2,283.01 89.8,283.41 89.4,283.77 89.0,284.24 88.6,284.66 88.2,284.94 87.8,285.33 87.4,285.82 87.0,286.22 86.6,286.33 86.2,286.51 85.8,286.86 85.4,287.11 85.0,287.60 84.6,288.23 84.2,288.67 83.8,289.05 83.4,289.39 83.0,289.90 82.6,290.54 82.2,291.15 81.8,292.29 81.4,293.69 81.0,295.05 80.6,296.42 80.2,298.00 79.8,299.77 79.4,301.65 79.0,304.11 78.6,308.90 78.2,312.49 77.8,312.52 77.4,312.47 77.0,312.58"/><clipPath id="b4"><use href="#p4"/></clipPath></defs><use href="#p4" fill="#000000" fill-opacity="0.4"/><use href="#p4" clip-path="url(#b4)" fill="none" stroke="#fff" stroke-opacity="0.3" stroke-width="4.6" stroke-linejoin="round"/>
<polyline points="77.6,310.00 422.7,310.00" fill="none" stroke="#0000ff" stroke-width="1.95" stroke-linejoin="round" stroke-linecap="butt"/>
<polyline points="77.6,306.30 78.0,305.78 78.4,305.26 78.8,304.75 79.2,304.25 79.6,303.76 80.0,303.27 80.4,302.80 80.8,302.34 81.2,301.88 81.6,301.44 82.0,301.01 82.4,300.60 82.8,300.19 83.2,299.79 83.6,299.40 84.0,299.01 84.4,298.63 84.8,298.26 85.2,297.90 85.6,297.54 86.0,297.19 86.4,296.84 86.8,296.50 87.2,296.17 87.6,295.84 88.0,295.52 88.4,295.20 88.8,294.89 89.2,294.57 89.6,294.26 90.0,293.95 90.4,293.65 90.8,293.34 91.2,293.05 91.6,292.76 92.0,292.48 92.4,292.20 92.8,291.94 93.2,291.69 93.6,291.45 94.0,291.22 94.4,291.00 94.8,290.80 95.2,290.59 95.6,290.38 96.0,290.17 96.4,289.98 96.8,289.80 97.2,289.64 97.6,289.52 98.0,289.44 98.4,289.39 98.8,289.36 99.2,289.34 99.6,289.31 100.0,289.29 100.0,289.29 101.0,289.24 102.0,289.19 103.0,289.16 104.0,289.13 105.0,289.11 106.0,289.10 107.0,289.10 108.0,289.10 109.0,289.11 110.0,289.12 111.0,289.14 112.0,289.15 113.0,289.17 114.0,289.19 115.0,289.21 116.0,289.24 117.0,289.26 118.0,289.28 119.0,289.30 120.0,289.32 121.0,289.34 122.0,289.36 123.0,289.38 124.0,289.41 125.0,289.43 126.0,289.45 127.0,289.47 128.0,289.49 129.0,289.50 130.0,289.50 131.0,289.50 132.0,289.50 133.0,289.50 134.0,289.50 135.0,289.50 136.0,289.50 137.0,289.50 138.0,289.50 139.0,289.50 140.0,289.50 141.0,289.50 142.0,289.50 143.0,289.50 144.0,289.50 145.0,289.50 146.0,289.50 147.0,289.50 148.0,289.51 149.0,289.51 150.0,289.52 151.0,289.52 152.0,289.53 153.0,289.54 154.0,289.55 155.0,289.56 156.0,289.57 157.0,289.58 158.0,289.59 159.0,289.60 160.0,289.62 161.0,289.63 162.0,289.64 163.0,289.66 164.0,289.67 165.0,289.68 166.0,289.70 167.0,289.71 168.0,289.72 169.0,289.74 170.0,289.75 171.0,289.76 172.0,289.78 173.0,289.79 174.0,289.80 175.0,289.82 176.0,289.83 177.0,289.84 178.0,289.86 179.0,289.87 180.0,289.89 181.0,289.90 182.0,289.92 183.0,289.94 184.0,289.95 185.0,289.97 186.0,289.99 187.0,290.01 188.0,290.02 189.0,290.04 190.0,290.06 191.0,290.08 192.0,290.10 193.0,290.12 194.0,290.14 195.0,290.16 196.0,290.18 197.0,290.21 198.0,290.23 199.0,290.25 200.0,290.28 201.0,290.30 202.0,290.33 203.0,290.35 204.0,290.38 205.0,290.41 206.0,290.43 207.0,290.46 208.0,290.49 209.0,290.52 210.0,290.55 211.0,290.58 212.0,290.60 213.0,290.63 214.0,290.66 215.0,290.69 216.0,290.72 217.0,290.75 218.0,290.78 219.0,290.81 220.0,290.84 221.0,290.88 222.0,290.91 223.0,290.95 224.0,290.98 225.0,291.02 226.0,291.06 227.0,291.09 228.0,291.13 229.0,291.17 230.0,291.21 231.0,291.24 232.0,291.28 233.0,291.32 234.0,291.35 235.0,291.39 236.0,291.42 237.0,291.45 238.0,291.49 239.0,291.52 240.0,291.55 241.0,291.57 242.0,291.60 243.0,291.62 244.0,291.65 245.0,291.67 246.0,291.69 247.0,291.72 248.0,291.74 249.0,291.76 250.0,291.78 251.0,291.80 252.0,291.82 253.0,291.84 254.0,291.86 255.0,291.88 256.0,291.89 257.0,291.91 258.0,291.93 259.0,291.95 260.0,291.97 261.0,291.99 262.0,292.00 263.0,292.02 264.0,292.04 265.0,292.06 266.0,292.08 267.0,292.10 268.0,292.12 269.0,292.14 270.0,292.16 271.0,292.18 272.0,292.20 273.0,292.22 274.0,292.23 275.0,292.25 276.0,292.27 277.0,292.29 278.0,292.31 279.0,292.33 280.0,292.35 281.0,292.37 282.0,292.39 283.0,292.41 284.0,292.43 285.0,292.45 286.0,292.47 287.0,292.49 288.0,292.51 289.0,292.53 290.0,292.55 291.0,292.58 292.0,292.60 293.0,292.62 294.0,292.65 295.0,292.68 296.0,292.71 297.0,292.74 298.0,292.77 299.0,292.80 300.0,292.84 301.0,292.87 302.0,292.90 303.0,292.94 304.0,292.97 305.0,293.00 306.0,293.04 307.0,293.07 308.0,293.10 309.0,293.13 310.0,293.16 311.0,293.18 312.0,293.21 313.0,293.23 314.0,293.25 315.0,293.27 316.0,293.29 317.0,293.30 318.0,293.32 319.0,293.34 320.0,293.35 321.0,293.37 322.0,293.38 323.0,293.39 324.0,293.41 325.0,293.42 326.0,293.43 327.0,293.44 328.0,293.46 329.0,293.47 330.0,293.48 331.0,293.49 332.0,293.51 333.0,293.52 334.0,293.53 335.0,293.54 336.0,293.56 337.0,293.57 338.0,293.59 339.0,293.60 340.0,293.62 341.0,293.63 342.0,293.65 343.0,293.66 344.0,293.68 345.0,293.69 346.0,293.71 347.0,293.72 348.0,293.74 349.0,293.76 350.0,293.77 351.0,293.79 352.0,293.80 353.0,293.82 354.0,293.84 355.0,293.85 356.0,293.87 357.0,293.89 358.0,293.90 359.0,293.92 360.0,293.94 361.0,293.95 362.0,293.97 363.0,293.98 364.0,294.00 365.0,294.02 366.0,294.03 367.0,294.05 368.0,294.07 369.0,294.08 370.0,294.10 371.0,294.12 372.0,294.13 373.0,294.15 374.0,294.17 375.0,294.18 376.0,294.20 377.0,294.22 378.0,294.23 379.0,294.25 380.0,294.26 381.0,294.28 382.0,294.30 383.0,294.31 384.0,294.33 385.0,294.34 386.0,294.36 387.0,294.37 388.0,294.39 389.0,294.40 390.0,294.41 391.0,294.43 392.0,294.44 393.0,294.45 394.0,294.47 395.0,294.48 396.0,294.49 397.0,294.51 398.0,294.52 399.0,294.53 400.0,294.55 401.0,294.56 402.0,294.57 403.0,294.58 404.0,294.60 405.0,294.61 406.0,294.62 407.0,294.63 408.0,294.64 409.0,294.65 410.0,294.67 411.0,294.68 412.0,294.69 413.0,294.70 414.0,294.71 415.0,294.72 416.0,294.73 417.0,294.74 418.0,294.75 419.0,294.76 420.0,294.77 421.0,294.78 422.0,294.79 422.8,294.80" fill="none" stroke="#00bfbf" stroke-width="1.95" stroke-linejoin="round" stroke-linecap="butt"/>
<polyline points="77.6,306.05 78.0,303.33 78.4,301.24 78.8,299.26 79.2,297.61 79.6,296.25 80.0,295.15 80.4,294.19 80.8,293.24 81.2,292.33 81.6,291.59 82.0,291.08 82.4,290.79 82.8,290.58 83.2,290.46 83.6,290.41 84.0,290.20 84.4,290.03 84.8,290.08 85.2,289.99 85.6,289.90 86.0,289.85 86.4,289.42 86.8,288.79 87.2,288.26 87.6,287.73 88.0,287.17 88.4,286.72 88.8,286.21 89.2,285.62 89.6,285.16 90.0,284.73 90.4,284.21 90.8,283.75 91.2,283.38 91.6,282.88 92.0,282.32 92.4,281.89 92.8,281.52 93.2,281.11 93.6,280.75 94.0,280.40 94.4,279.92 94.8,279.50 95.2,279.14 95.6,278.70 96.0,278.43 96.4,278.19 96.8,277.80 97.2,277.52 97.6,277.35 98.0,277.05 98.4,276.69 98.8,276.35 99.2,276.02 99.6,275.74 100.0,275.53 100.0,275.64 101.0,274.78 102.0,273.85 103.0,273.05 104.0,272.23 105.0,271.38 106.0,270.72 107.0,270.07 108.0,269.25 109.0,268.54 110.0,268.01 111.0,267.35 112.0,266.63 113.0,266.05 114.0,265.53 115.0,265.06 116.0,264.53 117.0,263.99 118.0,263.55 119.0,263.04 120.0,262.53 121.0,262.09 122.0,261.55 123.0,260.99 124.0,260.37 125.0,259.74 126.0,259.32 127.0,259.04 128.0,258.76 129.0,258.37 130.0,257.76 131.0,256.97 132.0,256.20 133.0,255.70 134.0,255.18 135.0,254.67 136.0,254.40 137.0,254.15 138.0,253.72 139.0,253.18 140.0,252.77 141.0,252.39 142.0,251.96 143.0,251.58 144.0,251.28 145.0,251.02 146.0,250.71 147.0,250.31 148.0,249.77 149.0,249.28 150.0,248.97 151.0,248.64 152.0,248.29 153.0,247.90 154.0,247.49 155.0,247.14 156.0,246.81 157.0,246.60 158.0,246.45 159.0,246.25 160.0,246.02 161.0,245.80 162.0,245.70 163.0,245.62 164.0,245.45 165.0,245.43 166.0,245.49 167.0,245.29 168.0,244.98 169.0,244.86 170.0,244.70 171.0,244.37 172.0,244.20 173.0,244.06 174.0,243.76 175.0,243.45 176.0,243.11 177.0,242.83 178.0,242.58 179.0,242.30 180.0,242.04 181.0,241.83 182.0,241.65 183.0,241.40 184.0,241.18 185.0,241.06 186.0,240.90 187.0,240.68 188.0,240.51 189.0,240.49 190.0,240.47 191.0,240.33 192.0,240.28 193.0,240.29 194.0,240.04 195.0,239.64 196.0,239.41 197.0,239.22 198.0,238.96 199.0,238.75 200.0,238.55 201.0,238.24 202.0,237.91 203.0,237.59 204.0,237.25 205.0,237.06 206.0,236.93 207.0,236.57 208.0,236.16 209.0,235.94 210.0,235.69 211.0,235.32 212.0,234.98 213.0,234.70 214.0,234.51 215.0,234.37 216.0,234.23 217.0,234.10 218.0,233.91 219.0,233.70 220.0,233.73 221.0,233.73 222.0,233.55 223.0,233.43 224.0,233.34 225.0,233.27 226.0,233.31 227.0,233.32 228.0,233.24 229.0,233.13 230.0,232.95 231.0,232.72 232.0,232.63 233.0,232.49 234.0,232.24 235.0,231.99 236.0,231.79 237.0,231.61 238.0,231.28 239.0,230.99 240.0,230.82 241.0,230.64 242.0,230.51 243.0,230.38 244.0,230.12 245.0,229.96 246.0,229.78 247.0,229.45 248.0,229.26 249.0,229.20 250.0,229.08 251.0,228.84 252.0,228.50 253.0,228.27 254.0,228.07 255.0,227.83 256.0,227.59 257.0,227.43 258.0,227.39 259.0,227.26 260.0,227.05 261.0,226.91 262.0,226.71 263.0,226.41 264.0,226.26 265.0,226.31 266.0,226.22 267.0,225.97 268.0,225.73 269.0,225.56 270.0,225.48 271.0,225.37 272.0,225.21 273.0,224.99 274.0,224.68 275.0,224.53 276.0,224.43 277.0,224.26 278.0,224.20 279.0,224.09 280.0,223.87 281.0,223.76 282.0,223.66 283.0,223.48 284.0,223.29 285.0,223.16 286.0,223.13 287.0,223.07 288.0,222.89 289.0,222.63 290.0,222.42 291.0,222.31 292.0,222.20 293.0,222.11 294.0,222.07 295.0,222.02 296.0,221.90 297.0,221.75 298.0,221.67 299.0,221.59 300.0,221.42 301.0,221.36 302.0,221.34 303.0,221.21 304.0,221.13 305.0,221.12 306.0,221.06 307.0,220.83 308.0,220.54 309.0,220.46 310.0,220.46 311.0,220.39 312.0,220.33 313.0,220.29 314.0,220.10 315.0,219.82 316.0,219.63 317.0,219.59 318.0,219.66 319.0,219.57 320.0,219.35 321.0,219.19 322.0,219.17 323.0,219.15 324.0,219.04 325.0,218.91 326.0,218.90 327.0,218.91 328.0,218.69 329.0,218.47 330.0,218.43 331.0,218.40 332.0,218.33 333.0,218.21 334.0,218.08 335.0,218.05 336.0,217.97 337.0,217.89 338.0,217.98 339.0,217.86 340.0,217.54 341.0,217.47 342.0,217.54 343.0,217.54 344.0,217.34 345.0,217.01 346.0,216.84 347.0,216.85 348.0,216.79 349.0,216.66 350.0,216.61 351.0,216.57 352.0,216.41 353.0,216.22 354.0,216.15 355.0,216.08 356.0,216.00 357.0,215.95 358.0,215.86 359.0,215.76 360.0,215.66 361.0,215.66 362.0,215.56 363.0,215.33 364.0,215.24 365.0,215.15 366.0,215.03 367.0,215.03 368.0,214.94 369.0,214.78 370.0,214.75 371.0,214.73 372.0,214.58 373.0,214.51 374.0,214.50 375.0,214.36 376.0,214.32 377.0,214.35 378.0,214.18 379.0,213.95 380.0,213.90 381.0,213.90 382.0,213.87 383.0,213.86 384.0,213.80 385.0,213.70 386.0,213.66 387.0,213.66 388.0,213.52 389.0,213.38 390.0,213.40 391.0,213.34 392.0,213.18 393.0,213.03 394.0,212.93 395.0,212.95 396.0,213.03 397.0,213.02 398.0,212.88 399.0,212.79 400.0,212.72 401.0,212.60 402.0,212.51 403.0,212.52 404.0,212.54 405.0,212.44 406.0,212.31 407.0,212.33 408.0,212.38 409.0,212.32 410.0,212.18 411.0,212.18 412.0,212.19 413.0,212.01 414.0,211.88 415.0,211.83 416.0,211.74 417.0,211.65 418.0,211.54 419.0,211.49 420.0,211.48 421.0,211.35 422.0,211.20 422.8,211.19" fill="none" stroke="#ff0000" stroke-width="1.95" stroke-linejoin="round" stroke-linecap="butt"/>
<polyline points="77.6,305.00 78.0,302.05 78.4,299.47 78.8,296.97 79.2,294.56 79.6,292.46 80.0,290.64 80.4,289.02 80.8,287.35 81.2,285.46 81.6,283.27 82.0,281.28 82.4,280.16 82.8,279.63 83.2,279.11 83.6,278.56 84.0,278.18 84.4,277.74 84.8,277.30 85.2,277.04 85.6,276.69 86.0,276.14 86.4,275.58 86.8,275.03 87.2,274.37 87.6,273.72 88.0,273.02 88.4,272.17 88.8,271.31 89.2,270.58 89.6,269.89 90.0,269.02 90.4,267.97 90.8,267.06 91.2,266.12 91.6,264.99 92.0,263.98 92.4,263.03 92.8,261.96 93.2,260.89 93.6,259.94 94.0,259.11 94.4,258.37 94.8,257.63 95.2,256.92 95.6,256.26 96.0,255.60 96.4,254.98 96.8,254.48 97.2,253.99 97.6,253.47 98.0,252.99 98.4,252.45 98.8,251.90 99.2,251.44 99.6,250.93 100.0,250.29 100.0,250.23 101.0,249.00 102.0,247.80 103.0,246.63 104.0,245.47 105.0,244.26 106.0,243.03 107.0,241.86 108.0,240.59 109.0,239.29 110.0,238.15 111.0,236.92 112.0,235.69 113.0,234.59 114.0,233.44 115.0,232.33 116.0,231.42 117.0,230.58 118.0,229.63 119.0,228.59 120.0,227.49 121.0,226.50 122.0,225.64 123.0,224.67 124.0,223.54 125.0,222.39 126.0,221.43 127.0,220.56 128.0,219.58 129.0,218.68 130.0,217.95 131.0,217.12 132.0,216.07 133.0,215.08 134.0,214.25 135.0,213.45 136.0,212.65 137.0,211.75 138.0,210.74 139.0,209.86 140.0,209.17 141.0,208.48 142.0,207.74 143.0,206.91 144.0,206.16 145.0,205.42 146.0,204.76 147.0,204.20 148.0,203.48 149.0,202.76 150.0,202.10 151.0,201.38 152.0,200.70 153.0,200.17 154.0,199.69 155.0,199.07 156.0,198.46 157.0,197.89 158.0,197.24 159.0,196.59 160.0,196.03 161.0,195.61 162.0,195.14 163.0,194.64 164.0,194.13 165.0,193.56 166.0,193.07 167.0,192.54 168.0,192.05 169.0,191.72 170.0,191.30 171.0,190.69 172.0,190.13 173.0,189.78 174.0,189.50 175.0,189.05 176.0,188.59 177.0,188.19 178.0,187.57 179.0,186.93 180.0,186.48 181.0,186.15 182.0,185.79 183.0,185.25 184.0,184.77 185.0,184.32 186.0,183.87 187.0,183.45 188.0,182.99 189.0,182.46 190.0,181.94 191.0,181.46 192.0,180.96 193.0,180.46 194.0,179.98 195.0,179.45 196.0,178.86 197.0,178.31 198.0,177.73 199.0,176.98 200.0,176.32 201.0,175.78 202.0,175.16 203.0,174.61 204.0,174.10 205.0,173.50 206.0,172.95 207.0,172.49 208.0,171.93 209.0,171.29 210.0,170.72 211.0,170.21 212.0,169.67 213.0,169.18 214.0,168.77 215.0,168.42 216.0,167.99 217.0,167.46 218.0,166.96 219.0,166.49 220.0,166.08 221.0,165.79 222.0,165.52 223.0,165.17 224.0,164.77 225.0,164.23 226.0,163.76 227.0,163.57 228.0,163.32 229.0,162.87 230.0,162.42 231.0,162.03 232.0,161.59 233.0,161.02 234.0,160.48 235.0,159.95 236.0,159.36 237.0,158.76 238.0,158.16 239.0,157.65 240.0,157.21 241.0,156.68 242.0,156.11 243.0,155.63 244.0,155.27 245.0,154.94 246.0,154.48 247.0,153.94 248.0,153.42 249.0,153.03 250.0,152.71 251.0,152.28 252.0,151.90 253.0,151.63 254.0,151.23 255.0,150.69 256.0,150.18 257.0,149.71 258.0,149.32 259.0,148.93 260.0,148.39 261.0,147.86 262.0,147.37 263.0,146.99 264.0,146.74 265.0,146.39 266.0,145.94 267.0,145.46 268.0,145.00 269.0,144.57 270.0,144.22 271.0,143.92 272.0,143.54 273.0,143.00 274.0,142.45 275.0,142.02 276.0,141.69 277.0,141.26 278.0,140.88 279.0,140.69 280.0,140.39 281.0,140.02 282.0,139.70 283.0,139.50 284.0,139.34 285.0,139.08 286.0,138.89 287.0,138.80 288.0,138.65 289.0,138.35 290.0,138.01 291.0,137.76 292.0,137.59 293.0,137.33 294.0,136.99 295.0,136.70 296.0,136.34 297.0,135.94 298.0,135.70 299.0,135.59 300.0,135.38 301.0,135.00 302.0,134.56 303.0,134.21 304.0,133.95 305.0,133.56 306.0,133.13 307.0,132.80 308.0,132.44 309.0,132.09 310.0,131.74 311.0,131.36 312.0,130.99 313.0,130.52 314.0,130.01 315.0,129.67 316.0,129.46 317.0,129.08 318.0,128.55 319.0,128.22 320.0,128.16 321.0,128.00 322.0,127.58 323.0,127.15 324.0,126.71 325.0,126.24 326.0,126.02 327.0,125.91 328.0,125.54 329.0,125.10 330.0,124.89 331.0,124.66 332.0,124.29 333.0,123.90 334.0,123.51 335.0,123.17 336.0,122.94 337.0,122.66 338.0,122.28 339.0,121.97 340.0,121.72 341.0,121.51 342.0,121.15 343.0,120.71 344.0,120.54 345.0,120.35 346.0,119.98 347.0,119.68 348.0,119.38 349.0,119.08 350.0,118.91 351.0,118.77 352.0,118.52 353.0,118.28 354.0,118.03 355.0,117.73 356.0,117.44 357.0,117.24 358.0,117.10 359.0,116.81 360.0,116.40 361.0,116.01 362.0,115.73 363.0,115.54 364.0,115.22 365.0,114.83 366.0,114.59 367.0,114.35 368.0,113.98 369.0,113.68 370.0,113.46 371.0,113.02 372.0,112.46 373.0,112.13 374.0,111.91 375.0,111.58 376.0,111.19 377.0,110.83 378.0,110.47 379.0,110.09 380.0,109.77 381.0,109.42 382.0,108.97 383.0,108.75 384.0,108.58 385.0,108.17 386.0,107.86 387.0,107.74 388.0,107.45 389.0,107.00 390.0,106.64 391.0,106.34 392.0,106.05 393.0,105.74 394.0,105.46 395.0,105.21 396.0,104.84 397.0,104.44 398.0,104.20 399.0,104.02 400.0,103.68 401.0,103.44 402.0,103.42 403.0,103.24 404.0,102.92 405.0,102.72 406.0,102.64 407.0,102.49 408.0,102.22 409.0,102.00 410.0,101.81 411.0,101.59 412.0,101.29 413.0,101.04 414.0,100.92 415.0,100.77 416.0,100.51 417.0,100.25 418.0,100.02 419.0,99.77 420.0,99.46 421.0,99.13 422.0,98.83 422.8,98.55" fill="none" stroke="#000000" stroke-width="1.95" stroke-linejoin="round" stroke-linecap="butt"/>
</g>
<line x1="76.80" y1="325.6" x2="76.80" y2="329.3" stroke="#000" stroke-width="0.85"/>
<text x="76.80" y="341.1" text-anchor="middle" textLength="6.74" lengthAdjust="spacingAndGlyphs" stroke="#000" stroke-width="0.2">0</text>
<line x1="145.82" y1="325.6" x2="145.82" y2="329.3" stroke="#000" stroke-width="0.85"/>
<text x="145.82" y="341.1" text-anchor="middle" textLength="26.94" lengthAdjust="spacingAndGlyphs" stroke="#000" stroke-width="0.2">1000</text>
<line x1="214.84" y1="325.6" x2="214.84" y2="329.3" stroke="#000" stroke-width="0.85"/>
<text x="214.84" y="341.1" text-anchor="middle" textLength="26.94" lengthAdjust="spacingAndGlyphs" stroke="#000" stroke-width="0.2">2000</text>
<line x1="283.86" y1="325.6" x2="283.86" y2="329.3" stroke="#000" stroke-width="0.85"/>
<text x="283.86" y="341.1" text-anchor="middle" textLength="26.94" lengthAdjust="spacingAndGlyphs" stroke="#000" stroke-width="0.2">3000</text>
<line x1="352.88" y1="325.6" x2="352.88" y2="329.3" stroke="#000" stroke-width="0.85"/>
<text x="352.88" y="341.1" text-anchor="middle" textLength="26.94" lengthAdjust="spacingAndGlyphs" stroke="#000" stroke-width="0.2">4000</text>
<line x1="421.90" y1="325.6" x2="421.90" y2="329.3" stroke="#000" stroke-width="0.85"/>
<text x="421.90" y="341.1" text-anchor="middle" textLength="26.94" lengthAdjust="spacingAndGlyphs" stroke="#000" stroke-width="0.2">5000</text>
<line x1="57.3" y1="309.80" x2="61.0" y2="309.80" stroke="#000" stroke-width="0.85"/>
<text x="53.5" y="314.35" text-anchor="end" textLength="6.3" lengthAdjust="spacingAndGlyphs" stroke="#000" stroke-width="0.2">1</text>
<line x1="57.3" y1="250.93" x2="61.0" y2="250.93" stroke="#000" stroke-width="0.85"/>
<text x="53.5" y="255.48" text-anchor="end" textLength="6.3" lengthAdjust="spacingAndGlyphs" stroke="#000" stroke-width="0.2">2</text>
<line x1="57.3" y1="192.05" x2="61.0" y2="192.05" stroke="#000" stroke-width="0.85"/>
<text x="53.5" y="196.60" text-anchor="end" textLength="6.3" lengthAdjust="spacingAndGlyphs" stroke="#000" stroke-width="0.2">3</text>
<line x1="57.3" y1="133.18" x2="61.0" y2="133.18" stroke="#000" stroke-width="0.85"/>
<text x="53.5" y="137.73" text-anchor="end" textLength="6.3" lengthAdjust="spacingAndGlyphs" stroke="#000" stroke-width="0.2">4</text>
<line x1="57.3" y1="74.30" x2="61.0" y2="74.30" stroke="#000" stroke-width="0.85"/>
<text x="53.5" y="78.85" text-anchor="end" textLength="6.3" lengthAdjust="spacingAndGlyphs" stroke="#000" stroke-width="0.2">5</text>
<rect x="61.0" y="44.05" width="378.0" height="281.55" fill="none" stroke="#000" stroke-width="0.85"/>
<rect x="66.5" y="49.3" width="131.3" height="64.9" rx="1.6" ry="1.6" fill="#fff" fill-opacity="0.8" stroke="#ccc" stroke-width="0.85"/>
<line x1="69.7" y1="57.60" x2="92.5" y2="57.60" stroke="#0000ff" stroke-width="1.95"/>
<text x="100.0" y="61.35" textLength="33.6" lengthAdjust="spacingAndGlyphs" stroke="#000" stroke-width="0.2">MINTS</text>
<text x="137.0" y="61.35" textLength="54.6" lengthAdjust="spacingAndGlyphs" stroke="#000" stroke-width="0.2">(Bernoulli)</text>
<line x1="69.7" y1="73.25" x2="92.5" y2="73.25" stroke="#00bfbf" stroke-width="1.95"/>
<text x="100.0" y="77.00" textLength="33.6" lengthAdjust="spacingAndGlyphs" stroke="#000" stroke-width="0.2">MINTS</text>
<text x="137.0" y="77.00" textLength="56.8" lengthAdjust="spacingAndGlyphs" stroke="#000" stroke-width="0.2">(Gaussian)</text>
<line x1="69.7" y1="88.90" x2="92.5" y2="88.90" stroke="#ff0000" stroke-width="1.95"/>
<text x="100.4" y="92.65" textLength="12.9" lengthAdjust="spacingAndGlyphs" stroke="#000" stroke-width="0.2">TS</text>
<line x1="69.7" y1="104.55" x2="92.5" y2="104.55" stroke="#000000" stroke-width="1.95"/>
<text x="100.0" y="108.30" textLength="28.6" lengthAdjust="spacingAndGlyphs" stroke="#000" stroke-width="0.2">UCB1</text>
</svg>
</body></html>
